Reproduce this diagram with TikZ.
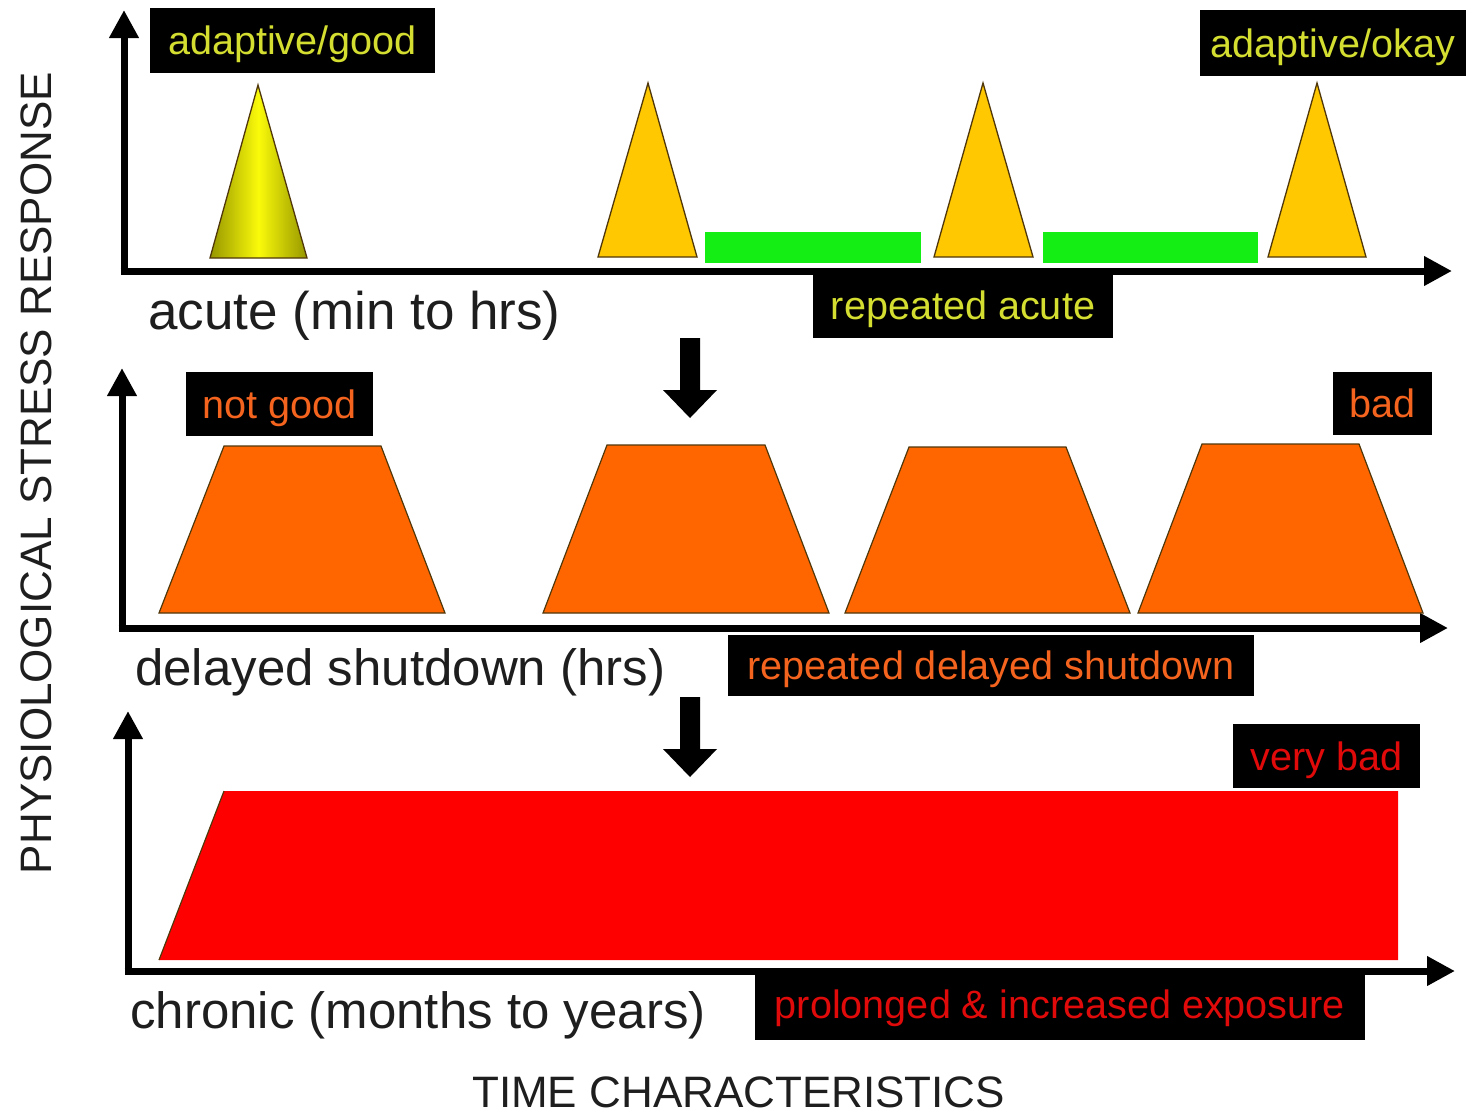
\documentclass[tikz,border=0pt]{standalone}
\usepackage{fontspec}
\setmainfont{Liberation Sans}
\usetikzlibrary{arrows.meta}
\definecolor{lblyellow}{RGB}{212,222,48}
\definecolor{lblorange}{RGB}{245,100,30}
\definecolor{lblred}{RGB}{225,10,10}
\definecolor{goldfill}{RGB}{255,200,0}
\definecolor{bargreen}{RGB}{20,238,20}
\definecolor{traporange}{RGB}{255,102,0}
\definecolor{txtdark}{RGB}{30,30,30}
\definecolor{olivedark}{RGB}{150,150,0}
\definecolor{brightyellow}{RGB}{250,250,10}
\definecolor{edgebrown}{RGB}{80,55,10}
\tikzset{
  axisline/.style={line width=7pt, -{Triangle[length=28pt,width=28pt]}},
  lbl/.style={fill=black, inner sep=0pt, font=\fontsize{39.6}{44}\selectfont, text height=28pt, text depth=0pt},
  mainlbl/.style={anchor=base west, inner sep=0pt, text=txtdark},
  tri/.style={fill=goldfill, draw=edgebrown, line width=1.3pt, line join=miter},
  trap/.style={fill=traporange, draw=edgebrown, line width=1.2pt},
  greenbar/.style={fill=bargreen, draw=none},
  blockarrow/.style={fill=black, draw=none}
}
\begin{document}
\begin{tikzpicture}[x=1pt,y=-1pt]
\useasboundingbox (0,0) rectangle (1466,1114);
\fill[white] (0,0) rectangle (1466,1114);

% ---------- Panel 1: acute ----------
\coordinate (o1y) at (124,274.5);
\coordinate (t1y) at (124,10);
\coordinate (o1x) at (120.5,271);
\coordinate (t1x) at (1452,271);
\draw[axisline] (o1y) -- (t1y);
\draw[axisline] (o1x) -- (t1x);

\shade[left color=olivedark, right color=olivedark, middle color=brightyellow]
  (210,258) -- (258,85) -- (307,258) -- cycle;
\draw[draw=edgebrown, line width=1.3pt] (210,258) -- (258,85) -- (307,258) -- cycle;

\filldraw[tri] (598,257) -- (648,83) -- (697,257) -- cycle;
\fill[greenbar] (705,232) rectangle (921,263);
\filldraw[tri] (934,257) -- (983,83) -- (1033,257) -- cycle;
\fill[greenbar] (1043,232) rectangle (1258,263);
\filldraw[tri] (1268,257) -- (1317,83) -- (1366,257) -- cycle;

\node[lbl, text=lblyellow, minimum width=285pt, minimum height=65pt] (lgood) at (292.5,40.5) {adaptive/good};
\node[lbl, text=lblyellow, minimum width=266pt, minimum height=66pt] (lokay) at (1333,43) {adaptive/okay};
\node[lbl, text=lblyellow, minimum width=300pt, minimum height=65pt] (lrepac) at (963,305.5) {repeated acute};
\node[mainlbl, font=\fontsize{53}{60}\selectfont] (acute) at (148,329) {acute (min to hrs)};

% block arrow 1
\fill[blockarrow] (680,338) -- (700,338) -- (700,390) -- (717,390) -- (690,418) -- (663,390) -- (680,390) -- cycle;

% ---------- Panel 2: delayed shutdown ----------
\coordinate (o2y) at (122,631.5);
\coordinate (t2y) at (122,368);
\coordinate (o2x) at (118.5,628);
\coordinate (t2x) at (1448,628);
\draw[axisline] (o2y) -- (t2y);
\draw[axisline] (o2x) -- (t2x);

\filldraw[trap] (159,613) -- (224,446) -- (381,446) -- (445,613) -- cycle;
\filldraw[trap] (543,613) -- (607,445) -- (765,445) -- (829,613) -- cycle;
\filldraw[trap] (845,613) -- (909,447) -- (1066,447) -- (1130,613) -- cycle;
\filldraw[trap] (1138,613) -- (1202,444) -- (1359,444) -- (1423,613) -- cycle;

\node[lbl, text=lblorange, minimum width=187pt, minimum height=64pt] (lnotgood) at (279.5,404) {not good};
\node[lbl, text=lblorange, minimum width=99pt, minimum height=63pt] (lbad) at (1382.5,403.5) {bad};
\node[lbl, text=lblorange, minimum width=526pt, minimum height=61pt] (lrepdel) at (991,665) {repeated delayed shutdown};
\node[mainlbl, font=\fontsize{51}{58}\selectfont] (delayed) at (135,685) {delayed shutdown (hrs)};

% block arrow 2
\fill[blockarrow] (680,697) -- (700,697) -- (700,749) -- (717,749) -- (690,777) -- (663,749) -- (680,749) -- cycle;

% ---------- Panel 3: chronic ----------
\coordinate (o3y) at (128,974.5);
\coordinate (t3y) at (128,711);
\coordinate (o3x) at (124.5,971);
\coordinate (t3x) at (1455,971);
\draw[axisline] (o3y) -- (t3y);
\draw[axisline] (o3x) -- (t3x);

\fill[red] (159,960) -- (224,791) -- (1398,791) -- (1398,960) -- cycle;
\draw[draw=edgebrown, line width=1.2pt] (159,960) -- (224,791);

\node[lbl, text=lblred, minimum width=187pt, minimum height=64pt] (lverybad) at (1326.5,756) {very bad};
\node[lbl, text=lblred, minimum width=610pt, minimum height=72pt] (lprolong) at (1060,1004) {prolonged \& increased exposure};
\node[mainlbl, font=\fontsize{51}{58}\selectfont] (chronic) at (130,1028) {chronic (months to years)};

% ---------- Axis titles ----------
\node[mainlbl, font=\fontsize{44}{50}\selectfont] (xtitle) at (472,1107) {TIME CHARACTERISTICS};
\node[rotate=90, inner sep=0pt, text=txtdark, font=\fontsize{44}{50}\selectfont] (ytitle) at (36,473) {PHYSIOLOGICAL STRESS RESPONSE};
\end{tikzpicture}
\end{document}
